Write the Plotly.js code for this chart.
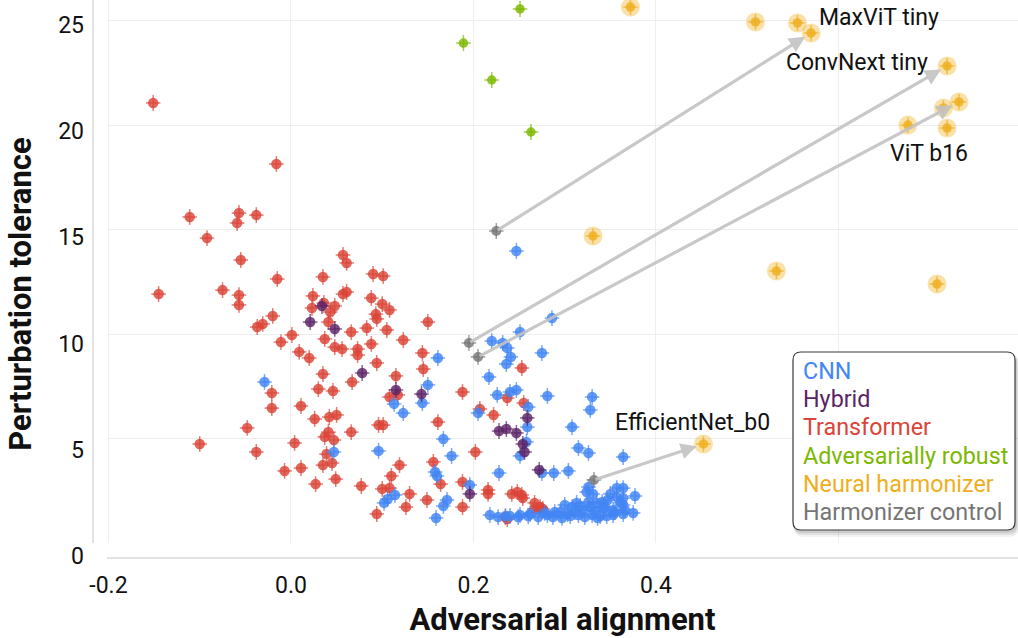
<!DOCTYPE html>
<html><head><meta charset="utf-8">
<script src="https://cdn.plot.ly/plotly-3.0.1.min.js"></script>
<style>html,body{margin:0;padding:0;background:#fff}#chart{width:1018px;height:638px}</style>
</head><body><div id="chart"></div>
<script>
const categories = ['CNN','Hybrid','Transformer','Adversarially robust','Neural harmonizer','Harmonizer control'];
const colors = ['#4285F4','#5B2366','#DB4437','#7CB800','#F4B400','#757575'];

const cnnX = [0.247,0.286,0.251,0.220,0.232,0.237,0.241,0.236,0.275,0.161,
0.217,0.226,0.240,0.247,0.260,0.281,0.330,0.328,0.205,0.259,
0.308,0.258,0.251,0.315,0.326,0.364,0.228,0.275,0.288,0.304,
0.150,0.144,0.113,0.123,0.167,0.176,0.096,-0.029,0.047,0.158,
0.160,0.196,0.114,0.106,0.102,0.171,0.167,0.159,
0.218,0.227,0.240,0.249,0.260,0.271,0.281,0.289,0.297,0.306,0.315,0.322,0.330,0.336,0.346,0.353,0.364,0.375,
0.326,0.324,0.331,0.300,0.313,0.326,0.335,0.350,0.347,0.357,0.364,0.364,0.364,0.377,0.353,0.342,0.320,0.311,0.308,0.317,
0.341,0.344,0.361,0.366,0.333,0.339,0.355,0.287,0.278,0.251,0.262,0.235,0.295,0.303,0.357,0.328];
const cnnY = [13.98,10.77,10.10,9.67,9.58,9.34,8.91,8.57,9.10,8.86,
7.95,7.09,7.23,7.33,6.51,7.04,6.99,6.37,6.22,5.55,
5.55,4.84,4.17,4.55,4.31,4.12,3.35,3.35,3.35,3.45,
7.57,6.70,6.66,6.22,4.98,4.17,4.41,7.71,4.36,3.40,
3.21,2.78,2.30,2.11,1.92,2.06,1.77,1.20,
1.34,1.24,1.29,1.24,1.29,1.24,1.34,1.48,1.20,1.29,1.34,1.24,1.34,1.20,1.29,1.34,1.39,1.44,
2.68,2.44,2.35,1.82,1.92,1.96,1.92,2.35,2.06,2.63,2.63,2.15,1.82,2.25,1.58,1.68,1.58,1.48,1.72,1.77,
1.96,1.72,1.92,1.58,1.53,1.29,1.48,1.24,1.44,1.34,1.39,1.29,1.48,1.39,2.20,1.72];

const hybridX = [0.021,0.034,0.048,0.078,0.115,0.143,0.259,0.228,0.236,0.247,0.254,0.256,0.272,0.196];
const hybridY = [10.58,11.35,10.25,8.14,7.33,7.13,5.99,5.36,5.46,5.27,4.74,4.36,3.50,2.35];

const transformerX = [-0.151,-0.111,-0.092,-0.057,-0.059,-0.038,-0.016,-0.055,-0.015,0.035,
0.057,0.061,-0.145,-0.075,-0.057,-0.057,-0.020,-0.037,-0.031,-0.011,
0.001,0.009,0.020,0.035,0.024,0.023,0.036,0.041,0.043,0.048,
0.037,0.057,0.061,0.066,0.048,0.056,0.073,0.073,0.030,0.046,
0.067,0.011,-0.021,-0.021,0.090,0.101,0.088,0.100,0.108,0.093,
0.094,0.083,0.105,0.088,0.123,0.094,0.115,0.144,0.145,0.150,
0.108,0.117,0.026,-0.048,-0.100,-0.038,0.004,0.037,0.041,0.047,
0.039,0.035,0.045,0.011,-0.007,0.027,0.049,0.042,0.050,0.066,
0.077,0.096,0.101,0.161,0.119,0.156,0.110,0.100,0.108,0.130,
0.164,0.149,0.126,0.094,0.188,0.202,0.207,0.222,0.237,0.255,
0.253,0.188,0.188,0.216,0.216,0.242,0.248,0.253,0.254,0.267,
0.273,0.267,0.276,0.275,0.235,0.237];
const transformerY = [21.07,15.61,14.60,15.80,15.32,15.70,18.15,13.55,12.64,12.74,
13.79,13.41,11.92,12.11,11.87,11.40,10.87,10.34,10.49,9.62,
9.96,9.15,8.86,8.09,11.83,11.25,11.49,10.58,11.06,11.35,
9.77,11.92,12.02,10.10,9.38,9.29,9.29,9.00,7.37,7.28,
7.71,6.56,7.18,6.46,12.88,12.78,11.73,11.44,11.16,10.96,
10.73,10.29,10.20,9.53,9.72,8.62,8.00,9.10,8.33,10.58,
6.99,7.09,5.94,5.51,4.74,4.36,4.79,5.08,5.31,4.93,
4.26,3.73,3.83,3.59,3.45,2.82,3.06,6.03,6.13,5.31,
2.73,5.65,5.65,5.79,3.73,3.88,3.21,2.59,2.63,2.35,
2.82,2.06,1.72,1.39,7.23,4.36,6.42,6.13,6.94,6.70,
8.38,2.92,1.72,2.54,2.35,2.35,2.44,2.30,2.15,1.92,
1.72,1.63,1.63,1.53,1.24,1.15];

const robustX = [0.251,0.189,0.220,0.263];
const robustY = [25.57,23.94,22.17,19.68];

const harmonizerX = [0.372,0.509,0.555,0.570,0.719,0.715,0.732,0.676,0.719,0.331,0.532,0.708,0.452];
const harmonizerY = [25.66,24.95,24.90,24.42,22.84,20.83,21.12,20.01,19.87,14.70,13.02,12.40,4.74];

const controlX = [0.225,0.195,0.205,0.332];
const controlY = [14.94,9.58,8.91,3.02];

// paired models: control index -> harmonizer index
const pairedNames = ['MaxViT tiny','ConvNext tiny','ViT b16','EfficientNet_b0'];
const pairedControl = [0,1,2,3];
const pairedHarmonizer = [3,4,6,12];

const xTickVals = [-0.2,0.0,0.2,0.4,0.6];
const xTickText = ['-0.2','0.0','0.2','0.4',''];
const yTickVals = [0,5,10,15,20,25];
const yTickText = ['0','5','10','15','20','25'];

// ---- layout helpers (pixels -> paper) ----
const W = 1018, H = 638, ML = 93, MR = 0, MT = 0, MB = 50;
const PW = W - ML - MR, PH = H - MT - MB;
const px2x = p => (p - ML) / PW;
const px2y = p => (H - MB - p) / PH;

function rgba(hex, a) {
  const n = parseInt(hex.slice(1), 16);
  return `rgba(${(n>>16)&255},${(n>>8)&255},${n&255},${a})`;
}

function pts(xs, ys, color, size, name) {
  return {
    type: 'scatter', mode: 'markers', x: xs, y: ys, name: name, showlegend: false,
    marker: {size: size, color: rgba(color, 0.82), line: {width: 0}},
    error_x: {type: 'constant', value: 0.008, color: rgba(color, 0.7), thickness: 1.5, width: 0},
    error_y: {type: 'constant', value: 0.38, color: rgba(color, 0.7), thickness: 1.5, width: 0}
  };
}

const traces = [
  pts(transformerX, transformerY, colors[2], 10.5, categories[2]),
  pts(cnnX, cnnY, colors[0], 10.5, categories[0]),
  pts(hybridX, hybridY, colors[1], 10.5, categories[1]),
  pts(robustX, robustY, colors[3], 9.5, categories[3]),
  pts(controlX, controlY, colors[5], 10, categories[5]),
  {type: 'scatter', mode: 'markers', x: harmonizerX, y: harmonizerY, showlegend: false, hoverinfo: 'skip',
   marker: {size: 19, color: 'rgba(240,175,30,0.38)', line: {width: 0}}},
  pts(harmonizerX, harmonizerY, '#EFAE1E', 9.5, categories[4]),
  // carrier for the tick-label axis
  {type: 'scatter', mode: 'markers', x: [0], y: [-10], xaxis: 'x2', yaxis: 'y2', showlegend: false,
   hoverinfo: 'skip', marker: {opacity: 0}}
];

const annotations = [];
for (let i = 0; i < pairedNames.length; i++) {
  const c = pairedControl[i], h = pairedHarmonizer[i];
  annotations.push({
    x: harmonizerX[h], y: harmonizerY[h], ax: controlX[c], ay: controlY[c],
    xref: 'x', yref: 'y', axref: 'x', ayref: 'y', text: '', showarrow: true,
    arrowhead: 2, arrowsize: 1, arrowwidth: 3.2, arrowcolor: 'rgba(195,195,195,0.9)', standoff: 7
  });
}
const labelPlacement = [
  {xanchor: 'left', xshift: 6, yshift: 16},
  {xanchor: 'right', xshift: -17, yshift: 4},
  {xanchor: 'right', xshift: 11, yshift: -52},
  {xanchor: 'center', xshift: -11, yshift: 22}
];
for (let i = 0; i < pairedNames.length; i++) {
  const h = pairedHarmonizer[i];
  annotations.push(Object.assign({
    x: harmonizerX[h], y: harmonizerY[h], xref: 'x', yref: 'y', text: pairedNames[i],
    showarrow: false, yanchor: 'middle', font: {family: 'Roboto', size: 23, color: '#111'}
  }, labelPlacement[i]));
}
// legend entries (text only, coloured)
const legendTop = 371, legendStep = 28.2, legendLeft = 801;
categories.forEach((c, i) => {
  annotations.push({
    xref: 'paper', yref: 'paper', x: px2x(legendLeft), y: px2y(legendTop + i * legendStep),
    xanchor: 'left', yanchor: 'middle', showarrow: false, text: c,
    font: {family: 'Roboto', size: 23.3, color: i === 4 ? '#EFAE1E' : colors[i]}
  });
});

function rrect(l, t, r, b, rad) {
  const X = px2x, Y = px2y;
  return `M ${X(l+rad)} ${Y(t)} L ${X(r-rad)} ${Y(t)} Q ${X(r)} ${Y(t)} ${X(r)} ${Y(t+rad)} ` +
         `L ${X(r)} ${Y(b-rad)} Q ${X(r)} ${Y(b)} ${X(r-rad)} ${Y(b)} L ${X(l+rad)} ${Y(b)} ` +
         `Q ${X(l)} ${Y(b)} ${X(l)} ${Y(b-rad)} L ${X(l)} ${Y(t+rad)} Q ${X(l)} ${Y(t)} ${X(l+rad)} ${Y(t)} Z`;
}
const box = {l: 793, t: 352, r: 1015, b: 530};
const shapes = [
  {type: 'path', xref: 'paper', yref: 'paper', path: rrect(box.l+1, box.t+3, box.r+4, box.b+7, 10), fillcolor: 'rgba(0,0,0,0.05)', line: {width: 0}},
  {type: 'path', xref: 'paper', yref: 'paper', path: rrect(box.l+1, box.t+2, box.r+3, box.b+5, 9), fillcolor: 'rgba(0,0,0,0.07)', line: {width: 0}},
  {type: 'path', xref: 'paper', yref: 'paper', path: rrect(box.l, box.t+1, box.r+2, box.b+3, 8), fillcolor: 'rgba(0,0,0,0.09)', line: {width: 0}},
  {type: 'path', xref: 'paper', yref: 'paper', path: rrect(box.l, box.t, box.r, box.b, 8), fillcolor: '#ffffff', line: {color: '#3a3a3a', width: 1.2}}
];

const layout = {
  width: W, height: H,
  margin: {l: ML, r: MR, t: MT, b: MB, pad: 0},
  paper_bgcolor: '#ffffff', plot_bgcolor: 'rgba(0,0,0,0)',
  font: {family: 'Roboto', size: 23, color: '#111'},
  showlegend: false,
  xaxis: {
    domain: [px2x(107), 1], range: [-0.2016, 0.7967], anchor: 'free', position: px2y(558),
    tickvals: xTickVals, ticktext: xTickText, ticks: '', ticklabelstandoff: 6,
    showgrid: true, gridcolor: '#eeeeee', gridwidth: 1, zeroline: false,
    showline: true, linecolor: '#e3e3e3', linewidth: 2,
    tickfont: {family: 'Roboto', size: 23, color: '#111'},
    title: {text: '<b>Adversarial alignment</b>', font: {family: 'Roboto', size: 31, color: '#111'}, standoff: 13}
  },
  yaxis: {
    domain: [px2y(543), 1], range: [0, 26.0], anchor: 'free', position: 0,
    tickvals: yTickVals, showticklabels: false, ticks: '',
    showgrid: true, gridcolor: '#eeeeee', gridwidth: 1, zeroline: false,
    showline: true, linecolor: '#e3e3e3', linewidth: 2
  },
  xaxis2: {domain: [px2x(107), 1], range: [-0.2016, 0.7967], anchor: 'y2', visible: false},
  yaxis2: {
    domain: [0, 1], range: [-1.507, 26.177], anchor: 'free', position: 0,
    tickvals: yTickVals, ticktext: yTickText, ticks: '', ticklabelstandoff: 9,
    showgrid: false, zeroline: false, showline: false,
    tickfont: {family: 'Roboto', size: 23, color: '#111'},
    title: {text: '<b>Perturbation tolerance</b>', font: {family: 'Roboto', size: 31, color: '#111'}, standoff: 16}
  },
  annotations: annotations,
  shapes: shapes
};

Plotly.newPlot('chart', traces, layout, {displayModeBar: false, staticPlot: true});
</script>
</body></html>
